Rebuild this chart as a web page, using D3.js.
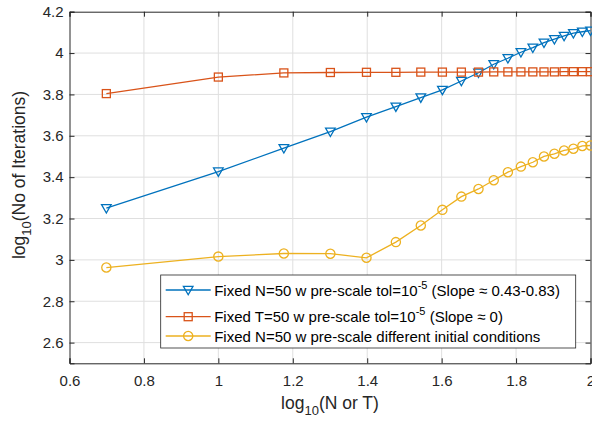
<!DOCTYPE html>
<html>
<head>
<meta charset="utf-8">
<script src="https://cdn.jsdelivr.net/npm/d3@7"></script>
<style>
  body { margin: 0; background: #fff; }
  svg { font-family: "Liberation Sans", Arial, Helvetica, sans-serif; }
</style>
</head>
<body>
<svg width="592" height="422"></svg>
<script>
// x positions = log10(N or T) for N = 5, 10, ..., 100
const xVals = [0.699, 1, 1.176, 1.301, 1.398, 1.477, 1.544, 1.602, 1.653, 1.699,
  1.740, 1.778, 1.813, 1.845, 1.875, 1.903, 1.929, 1.954, 1.978, 2];

const fixedNTol = [3.25, 3.427, 3.54, 3.62, 3.69, 3.741, 3.785, 3.822, 3.865, 3.905,
  3.946, 3.975, 4.004, 4.026, 4.05, 4.067, 4.083, 4.096, 4.103, 4.108];
const fixedTTol = [3.804, 3.884, 3.904, 3.906, 3.907, 3.907, 3.908, 3.908, 3.908, 3.908,
  3.909, 3.909, 3.909, 3.909, 3.909, 3.909, 3.91, 3.91, 3.91, 3.91];
const fixedNInit = [2.963, 3.016, 3.031, 3.03, 3.01, 3.086, 3.166, 3.242, 3.306, 3.343,
  3.385, 3.424, 3.451, 3.472, 3.5, 3.513, 3.529, 3.537, 3.551, 3.553];

const xTicks = [0.6, 0.8, 1, 1.2, 1.4, 1.6, 1.8, 2];
const yTicks = [2.6, 2.8, 3, 3.2, 3.4, 3.6, 3.8, 4, 4.2];

const series = [
  { name: "fixedNTol", values: fixedNTol, color: "#0072BD", marker: "tri",
    label: ["Fixed N=50 w pre-scale tol=10", "-5", " (Slope \u2248 0.43-0.83)"] },
  { name: "fixedTTol", values: fixedTTol, color: "#D95319", marker: "sq",
    label: ["Fixed T=50 w pre-scale tol=10", "-5", " (Slope \u2248 0)"] },
  { name: "fixedNInit", values: fixedNInit, color: "#EDB120", marker: "circ",
    label: ["Fixed N=50 w pre-scale different initial conditions"] }
];

const svg = d3.select("svg");
const margin = { left: 69.5, right: 1.5, top: 11.7, bottom: 58.7 };
const width = 592, height = 422;
const axisColor = "#262626";

const x = d3.scaleLinear().domain([0.6, 2]).range([margin.left, width - margin.right]);
const y = d3.scaleLinear().domain([2.5, 4.2]).range([height - margin.bottom, margin.top]);

// Grid lines
const grid = svg.append("g").attr("stroke", "#dfdfdf").attr("stroke-width", 1);
grid.selectAll(".gx").data(xTicks.slice(1, -1)).enter().append("line")
  .attr("x1", d => x(d)).attr("x2", d => x(d))
  .attr("y1", y(2.5)).attr("y2", y(4.2));
grid.selectAll(".gy").data(yTicks.slice(0, -1)).enter().append("line")
  .attr("x1", x(0.6)).attr("x2", x(2))
  .attr("y1", d => y(d)).attr("y2", d => y(d));

// Axes (ticks inside, box on)
const tick = 5;
const xAxis = svg.append("g").attr("transform", `translate(0,${y(2.5)})`)
  .call(d3.axisBottom(x).tickValues(xTicks).tickSize(-tick).tickPadding(12)
    .tickFormat(d3.format("~g")));
const yAxis = svg.append("g").attr("transform", `translate(${x(0.6)},0)`)
  .call(d3.axisLeft(y).tickValues(yTicks).tickSize(-tick).tickPadding(6)
    .tickFormat(d3.format("~g")));
const xTop = svg.append("g").attr("transform", `translate(0,${y(4.2)})`)
  .call(d3.axisTop(x).tickValues(xTicks).tickSize(-tick).tickFormat(""));
const yRight = svg.append("g").attr("transform", `translate(${x(2)},0)`)
  .call(d3.axisRight(y).tickValues(yTicks).tickSize(-tick).tickFormat(""));

[xAxis, yAxis, xTop, yRight].forEach(a => {
  a.selectAll("path").attr("stroke", axisColor).attr("stroke-width", 1);
  a.selectAll("line").attr("stroke", axisColor).attr("stroke-width", 1);
  a.selectAll("text").attr("fill", axisColor).style("font-size", "15px")
    .style("font-family", "Liberation Sans, Arial, sans-serif");
});
xAxis.selectAll("text").attr("dy", "0.71em");

// Marker drawing
function drawMarker(sel, type, color) {
  if (type === "tri") {
    sel.append("path").attr("d", "M-4.8,-3.6 L4.8,-3.6 L0,4.8 Z");
  } else if (type === "sq") {
    sel.append("rect").attr("x", -4).attr("y", -4).attr("width", 8).attr("height", 8);
  } else {
    sel.append("circle").attr("r", 4.6);
  }
  sel.selectAll("path,rect,circle").attr("fill", "none")
    .attr("stroke", color).attr("stroke-width", 1.3);
}

const line = d3.line().x((d, i) => x(xVals[i])).y(d => y(d));
const plot = svg.append("g");
series.forEach(s => {
  plot.append("path").datum(s.values).attr("d", line)
    .attr("fill", "none").attr("stroke", s.color).attr("stroke-width", 1.3);
  plot.selectAll(".m-" + s.name).data(s.values).enter().append("g")
    .attr("transform", (d, i) => `translate(${x(xVals[i])},${y(d)})`)
    .each(function () { drawMarker(d3.select(this), s.marker, s.color); });
});

// Legend
const leg = svg.append("g").attr("transform", "translate(160.7,275)");
leg.append("rect").attr("width", 415).attr("height", 73)
  .attr("fill", "#fff").attr("stroke", axisColor).attr("stroke-width", 0.8);
const rowY = [15, 41.7, 61];
series.forEach((s, i) => {
  const r = leg.append("g").attr("transform", `translate(0,${rowY[i]})`);
  r.append("line").attr("x1", 5).attr("x2", 50).attr("stroke", s.color).attr("stroke-width", 1.3);
  const m = r.append("g").attr("transform", "translate(27.5,0)");
  drawMarker(m, s.marker, s.color);
  const t = r.append("text").attr("x", 53.5).attr("y", 5.5)
    .attr("fill", "#000").style("font-size", "15px");
  t.append("tspan").text(s.label[0]);
  if (s.label.length > 1) {
    t.append("tspan").attr("dy", -7).style("font-size", "11px").text(s.label[1]);
    t.append("tspan").attr("dy", 7).text(s.label[2]);
  }
});

// Axis labels
const xl = svg.append("text").attr("x", x(1.3)).attr("y", 409)
  .attr("text-anchor", "middle").attr("fill", axisColor).style("font-size", "17.5px");
xl.append("tspan").text("log");
xl.append("tspan").attr("dy", 6).style("font-size", "13px").text("10");
xl.append("tspan").attr("dy", -6).text("(N or T)");

const yl = svg.append("text")
  .attr("transform", `translate(25,175) rotate(-90)`)
  .attr("text-anchor", "middle").attr("fill", axisColor).style("font-size", "17.5px");
yl.append("tspan").text("log");
yl.append("tspan").attr("dy", 6).style("font-size", "13px").text("10");
yl.append("tspan").attr("dy", -6).text("(No of Iterations)");
</script>
</body>
</html>
